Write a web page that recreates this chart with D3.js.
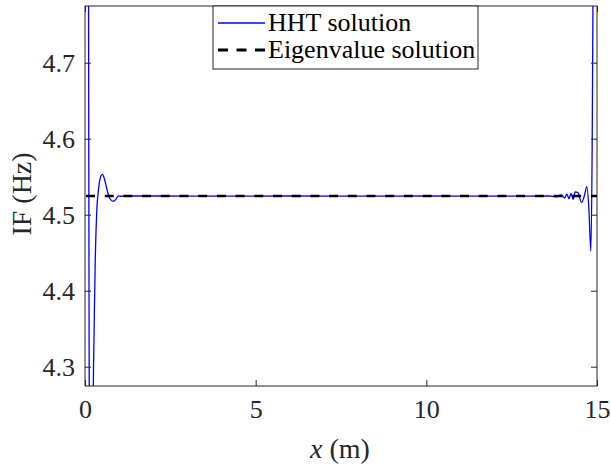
<!DOCTYPE html>
<html><head><meta charset="utf-8">
<script src="https://cdn.jsdelivr.net/npm/d3@7"></script>
<style>body{margin:0;background:#fff}svg{display:block}text{font-family:"Liberation Serif"}</style>
</head><body>
<svg id="c" width="611" height="467"></svg>
<script>
// ---- data ----
const xTicks = [0, 5, 10, 15];
const yTicks = [4.3, 4.4, 4.5, 4.6, 4.7];
const eigenValue = 4.5246;
const hhtX = [0.0, 0.1, 0.13, 0.17, 0.21, 0.25, 0.3, 0.34, 0.4, 0.46, 0.51, 0.57, 0.65, 0.73, 0.83, 0.9, 0.97, 1.05, 1.2, 2, 4, 6, 8, 10, 12, 13.6, 13.8, 13.95, 14.05, 14.12, 14.18, 14.24, 14.3, 14.36, 14.44, 14.55, 14.63, 14.7, 14.76, 14.82, 14.86, 14.89, 14.95, 15.0];
const hhtY = [6.5, 4.9, 4.1, 3.9, 4.1, 4.3, 4.44, 4.5, 4.535, 4.55, 4.553, 4.547, 4.532, 4.521, 4.5175, 4.52, 4.5245, 4.5243, 4.5246, 4.5246, 4.5245, 4.5246, 4.5245, 4.5246, 4.5245, 4.5246, 4.5235, 4.526, 4.522, 4.527, 4.521, 4.528, 4.52, 4.53, 4.529, 4.516, 4.525, 4.537, 4.51, 4.452, 4.6, 4.85, 5.5, 6.5];
const legendLabels = ["HHT solution", "Eigenvalue solution"];

// ---- layout ----
const L = 85, R = 597, T = 6, B = 386;
const svg = d3.select("#c");
const x = d3.scaleLinear().domain([0, 15]).range([L, R]);
const y = d3.scaleLinear().domain([4.2746, 4.7746]).range([B, T]);
const axisCol = "#262626";
const font = "Liberation Serif";

svg.append("defs").append("clipPath").attr("id", "clip")
  .append("rect").attr("x", L).attr("y", T).attr("width", R - L).attr("height", B - T);

const g = svg.append("g").attr("clip-path", "url(#clip)");

// HHT line
const pts = hhtX.map((v, i) => [v, hhtY[i]]);
g.append("path").datum(pts)
  .attr("fill", "none").attr("stroke", "#0000ff").attr("stroke-width", 1.3)
  .attr("d", d3.line().x(d => x(d[0])).y(d => y(d[1])).curve(d3.curveMonotoneX));

// eigen dashed line
g.append("line")
  .attr("x1", x(0) + 1).attr("x2", x(15))
  .attr("y1", y(eigenValue)).attr("y2", y(eigenValue))
  .attr("stroke", "#000").attr("stroke-width", 2.6)
  .attr("stroke-dasharray", "9,9.7");

// axes
const tl = 6;
const ax = svg.append("g").attr("transform", `translate(0,${B})`)
  .call(d3.axisBottom(x).tickValues(xTicks).tickSizeInner(-tl).tickSizeOuter(0).tickPadding(14).tickFormat(d3.format("d")));
const axT = svg.append("g").attr("transform", `translate(0,${T})`)
  .call(d3.axisTop(x).tickValues(xTicks).tickSizeInner(-tl).tickSizeOuter(0).tickFormat(""));
const ay = svg.append("g").attr("transform", `translate(${L},0)`)
  .call(d3.axisLeft(y).tickValues(yTicks).tickSizeInner(-tl).tickSizeOuter(0).tickPadding(10).tickFormat(d3.format(".1f")));
const ayR = svg.append("g").attr("transform", `translate(${R},0)`)
  .call(d3.axisRight(y).tickValues(yTicks).tickSizeInner(-tl).tickSizeOuter(0).tickFormat(""));
[ax, axT, ay, ayR].forEach(a => {
  a.attr("font-family", font).attr("font-size", 26);
  a.select(".domain").remove();
  a.selectAll("line").attr("stroke", axisCol);
  a.selectAll("text").attr("fill", axisCol);
});
svg.append("rect").attr("x", L).attr("y", T).attr("width", R - L).attr("height", B - T)
  .attr("fill", "none").attr("stroke", axisCol).attr("stroke-width", 1);

// axis labels
const xl = svg.append("text").attr("x", (L + R) / 2 - 1).attr("y", 458).attr("text-anchor", "middle")
  .attr("fill", axisCol).attr("font-family", font).attr("font-size", 28);
xl.append("tspan").attr("font-style", "italic").text("x");
xl.append("tspan").text(" (m)");
svg.append("text").attr("transform", `translate(31,${(T + B) / 2 - 2}) rotate(-90)`)
  .attr("text-anchor", "middle").attr("fill", axisCol)
  .attr("font-family", font).attr("font-size", 28).text("IF (Hz)");

// legend
const lg = svg.append("g");
lg.append("rect").attr("x", 213).attr("y", T).attr("width", 265).attr("height", 63)
  .attr("fill", "#fff").attr("stroke", axisCol).attr("stroke-width", 1);
const rows = [23, 50];
lg.append("line").attr("x1", 218).attr("x2", 265).attr("y1", rows[0]).attr("y2", rows[0])
  .attr("stroke", "#0000ff").attr("stroke-width", 1.3);
lg.append("line").attr("x1", 218).attr("x2", 265).attr("y1", rows[1]).attr("y2", rows[1])
  .attr("stroke", "#000").attr("stroke-width", 3).attr("stroke-dasharray", "10,8.5");
legendLabels.forEach((t, i) => {
  lg.append("text").attr("x", 268).attr("y", rows[i] + 8).attr("fill", "#000")
    .attr("font-family", font).attr("font-size", 26).text(t);
});
</script>
</body></html>
